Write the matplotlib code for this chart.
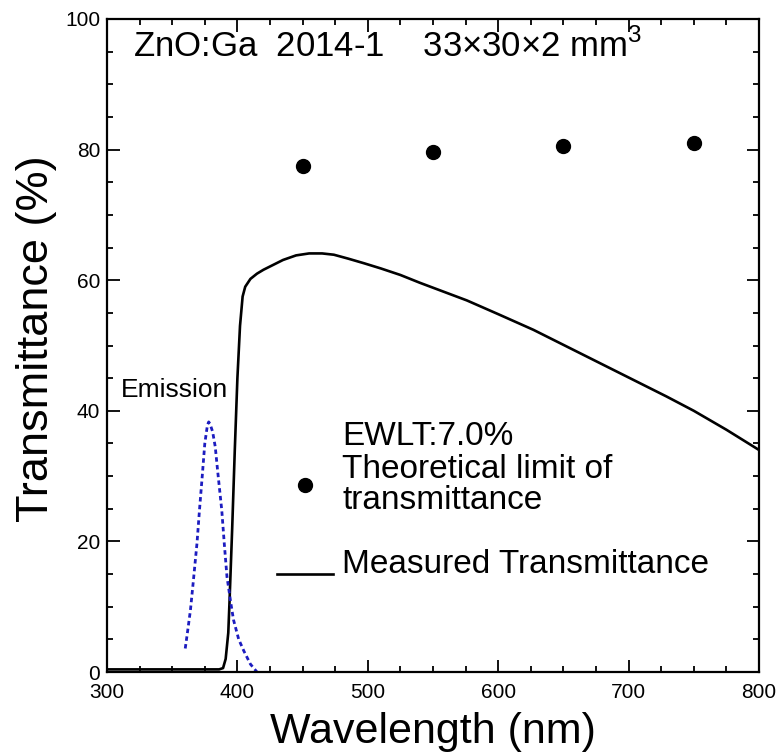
"""Transmittance spectrum of a ZnO:Ga crystal with the emission band overlaid."""

import matplotlib
matplotlib.use("Agg")
import matplotlib.pyplot as plt  # noqa: E402
from matplotlib.legend_handler import HandlerLine2D  # noqa: E402
from matplotlib.lines import Line2D  # noqa: E402
from matplotlib.ticker import MultipleLocator  # noqa: E402

plt.rcParams["font.family"] = ["Liberation Sans", "DejaVu Sans"]
plt.rcParams["mathtext.fontset"] = "custom"
plt.rcParams["mathtext.rm"] = "Liberation Sans"

# measured transmittance (%) vs wavelength (nm)
wl_measured = [300, 320, 340, 360, 380, 386, 389, 391, 393, 394, 395, 396, 397,
               398, 400, 402, 404, 406, 410, 415, 420, 435, 445, 455, 465, 474,
               485, 497, 510, 525, 540, 560, 576, 600, 627, 650, 678, 700, 729,
               750, 775, 800]
t_measured = [0.4, 0.4, 0.4, 0.4, 0.4, 0.4, 0.6, 2.0, 6.0, 11.0, 16.5, 22.0,
              28.0, 34.0, 45.0, 53.0, 57.5, 59.0, 60.2, 61.0, 61.6, 63.1, 63.8,
              64.1, 64.1, 63.9, 63.3, 62.6, 61.8, 60.8, 59.6, 58.1, 56.9, 54.8,
              52.4, 50.1, 47.3, 45.1, 42.2, 40.0, 37.1, 34.0]

# emission band (arb. units scaled to the % axis)
wl_emission = [360, 362, 364, 366, 369, 371, 373, 375, 377, 378, 379, 381, 383,
               385, 388, 390, 392, 395, 397, 401, 405, 410, 415]
i_emission = [3.6, 6.5, 9.5, 13.5, 19.7, 25.0, 29.9, 35.0, 37.8, 38.3, 38.0,
              36.8, 34.5, 30.5, 24.8, 19.5, 14.6, 10.5, 8.0, 5.0, 3.2, 1.2, 0.0]

# theoretical limit of transmittance
wl_limit = [450, 550, 650, 750]
t_limit = [77.5, 79.6, 80.6, 81.0]


class LoweredLine(HandlerLine2D):
    """Legend key drawn `drop` points below the label's centre."""

    def __init__(self, drop=0.0, **kw):
        super().__init__(**kw)
        self.drop = drop

    def create_artists(self, legend, orig_handle, xdescent, ydescent, width,
                       height, fontsize, trans):
        return super().create_artists(legend, orig_handle, xdescent,
                                      ydescent + 2 * self.drop, width, height,
                                      fontsize, trans)


fig = plt.figure(figsize=(7.79, 7.56), dpi=100)
ax = fig.add_axes([107 / 779, 84 / 756, 652 / 779, 653 / 756])

ax.plot(wl_measured, t_measured, color="black", lw=1.9)
ax.plot(wl_emission, i_emission, color="#1c1cc0", lw=2.0, ls=(0, (1.6, 1.2)))
ax.plot(wl_limit, t_limit, "o", color="black", ms=10)

ax.set_xlim(300, 800)
ax.set_ylim(0, 100)
ax.xaxis.set_major_locator(MultipleLocator(100))
ax.xaxis.set_minor_locator(MultipleLocator(25))
ax.yaxis.set_major_locator(MultipleLocator(20))
ax.yaxis.set_minor_locator(MultipleLocator(5))
ax.tick_params(which="both", direction="in", top=True, right=True, width=1.3,
               labelsize=15)
ax.tick_params(which="major", length=9)
ax.tick_params(which="minor", length=4)
ax.tick_params(axis="x", pad=8)
ax.tick_params(axis="y", pad=5)
for sp in ax.spines.values():
    sp.set_linewidth(1.6)

ax.set_xlabel("Wavelength (nm)", fontsize=31, labelpad=7)
ax.set_ylabel("Transmittance (%)", fontsize=32.5, labelpad=6, y=0.511)

ax.text(320, 94.2, "ZnO:Ga  2014-1    33×30×2 mm$^3$", fontsize=25,
        va="baseline")
ax.text(310.7, 42.1, "Emission", fontsize=19, va="baseline")
ax.text(480.2, 34.8, "EWLT:7.0%", fontsize=24, va="baseline")

dot_key = Line2D([], [], ls="none", marker="o", color="black", ms=10)
line_key = Line2D([], [], color="black", lw=1.9)
leg = ax.legend([dot_key, line_key],
                ["Theoretical limit of\ntransmittance", "Measured Transmittance"],
                handler_map={line_key: LoweredLine(drop=9)},
                loc="upper left", bbox_to_anchor=(0.261, 0.334),
                frameon=False, fontsize=24, handlelength=1.68,
                handletextpad=0.27, labelspacing=1.0, borderpad=0,
                borderaxespad=0)
leg.get_texts()[0].set_linespacing(1.0)

fig.savefig("out.png", dpi=100)
